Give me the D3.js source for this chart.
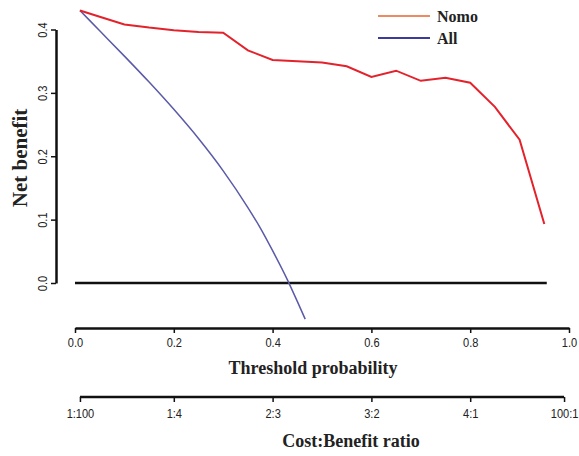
<!DOCTYPE html>
<html>
<head>
<meta charset="utf-8">
<script src="https://cdn.jsdelivr.net/npm/d3@7"></script>
<style>
  body { margin: 0; background: #fff; }
  .tick text { font-family: "Liberation Sans", Arial, sans-serif; font-size: 13px; fill: #222; }
  .ttl { font-family: "Liberation Serif", "Times New Roman", serif; font-weight: bold; fill: #222; }
</style>
</head>
<body>
<svg width="579" height="456"></svg>
<script>
// Nomo model net benefit
let nomoThr = [0.01, 0.05, 0.10, 0.15, 0.20, 0.25, 0.30, 0.35, 0.40, 0.45, 0.50, 0.55, 0.60, 0.65, 0.70, 0.75, 0.80, 0.85, 0.90, 0.95]
let nomoNB  = [0.430, 0.420, 0.408, 0.403, 0.399, 0.396, 0.395, 0.367, 0.352, 0.350, 0.348, 0.342, 0.325, 0.335, 0.319, 0.324, 0.316, 0.278, 0.226, 0.093]
// Treat-all curve
let allThr = [0.01, 0.05, 0.10, 0.15, 0.20, 0.25, 0.30, 0.35, 0.375, 0.40, 0.43, 0.45, 0.466]
let allNB  = [0.430, 0.398, 0.358, 0.317, 0.274, 0.228, 0.177, 0.119, 0.087, 0.051, 0.005, -0.029, -0.057]
// Treat-none line
let noneThr = [0.0, 0.955]
let noneNB  = [0, 0]
// axis ticks
let xTicks = [0, 0.2, 0.4, 0.6, 0.8, 1.0]
let yTicks = [0, 0.1, 0.2, 0.3, 0.4]
let ratioPos = [0.01, 0.2, 0.4, 0.6, 0.8, 0.99]
let ratioLabels = ['1:100', '1:4', '2:3', '3:2', '4:1', '100:1']
let seriesNames = ['Nomo', 'All']

let svg = d3.select('svg')

let xScale = d3.scaleLinear().domain([0, 1]).range([75, 569]),
    yScale = d3.scaleLinear().domain([0, 0.4]).range([283, 29.5])

let line = d3.line().x(d => xScale(d[0])).y(d => yScale(d[1]))

//None line (black, thick)
svg.append('path')
    .datum(d3.zip(noneThr, noneNB))
    .attr('d', line)
    .attr('fill', 'none')
    .attr('stroke', '#111')
    .attr('stroke-width', 2.5)

//All curve
svg.append('path')
    .datum(d3.zip(allThr, allNB))
    .attr('d', line.curve(d3.curveMonotoneX))
    .attr('fill', 'none')
    .attr('stroke', '#5a5aa8')
    .attr('stroke-width', 1.5)
line.curve(d3.curveLinear)

//Nomo curve
svg.append('path')
    .datum(d3.zip(nomoThr, nomoNB))
    .attr('d', line)
    .attr('fill', 'none')
    .attr('stroke', '#e3222c')
    .attr('stroke-width', 2)

//y axis
let yAxis = svg.append('g')
    .attr('transform', 'translate(56, 0)')
    .call(d3.axisLeft(yScale).tickValues(yTicks).tickFormat(d3.format('.1f')).tickSize(5).tickSizeOuter(0))
yAxis.select('.domain').attr('stroke', '#111').attr('stroke-width', 2.5)
yAxis.selectAll('.tick line').attr('stroke', '#111').attr('stroke-width', 1.5)
yAxis.selectAll('.tick text')
    .attr('x', null)
    .attr('text-anchor', 'middle')
    .attr('transform', 'translate(-14, 0) rotate(-90) scale(0.85, 1)')
    .attr('dy', '0.35em')

svg.append('text')
    .attr('class', 'ttl')
    .attr('text-anchor', 'middle')
    .attr('transform', 'translate(27, 158) rotate(-90)')
    .style('font-size', '21px')
    .text('Net benefit')

//x axis
let xAxis = svg.append('g')
    .attr('transform', 'translate(0, 328)')
    .call(d3.axisBottom(xScale).tickValues(xTicks).tickFormat(d3.format('.1f')).tickSize(5).tickSizeOuter(0))
xAxis.select('.domain').attr('stroke', '#111').attr('stroke-width', 2.5)
xAxis.selectAll('.tick line').attr('stroke', '#111').attr('stroke-width', 1.5)
xAxis.selectAll('.tick text').attr('y', 10).attr('transform', 'scale(0.85, 1)')

svg.append('text')
    .attr('class', 'ttl')
    .attr('text-anchor', 'middle')
    .attr('x', 313)
    .attr('y', 374)
    .style('font-size', '18px')
    .text('Threshold probability')

//cost:benefit axis
let rScale = d3.scaleLinear().domain([0, 1]).range([75, 569])
let rAxis = svg.append('g')
    .attr('transform', 'translate(0, 397)')
    .call(d3.axisBottom(rScale).tickValues(ratioPos).tickFormat((d, i) => ratioLabels[i]).tickSize(5).tickSizeOuter(0))
rAxis.select('.domain').attr('stroke', '#111').attr('stroke-width', 2.5)
    .attr('d', 'M' + rScale(ratioPos[0]) + ',0H' + rScale(ratioPos[ratioPos.length - 1]))
rAxis.selectAll('.tick line').attr('stroke', '#111').attr('stroke-width', 1.5)
rAxis.selectAll('.tick text').attr('y', 12).attr('transform', 'scale(0.85, 1)')

svg.append('text')
    .attr('class', 'ttl')
    .attr('text-anchor', 'middle')
    .attr('x', 351)
    .attr('y', 447)
    .style('font-size', '18px')
    .text('Cost:Benefit ratio')

//legend
let legColors = ['#ec8a62', '#3c3c98']
let legend = svg.append('g').attr('transform', 'translate(378, 16)')
seriesNames.forEach((name, i) => {
    legend.append('line')
        .attr('x1', 0).attr('x2', 52)
        .attr('y1', i * 22).attr('y2', i * 22)
        .attr('stroke', legColors[i])
        .attr('stroke-width', 1.8)
    legend.append('text')
        .attr('class', 'ttl')
        .attr('x', 59)
        .attr('y', i * 22)
        .attr('dy', '0.35em')
        .style('font-size', '16px')
        .text(name)
})
</script>
</body>
</html>
